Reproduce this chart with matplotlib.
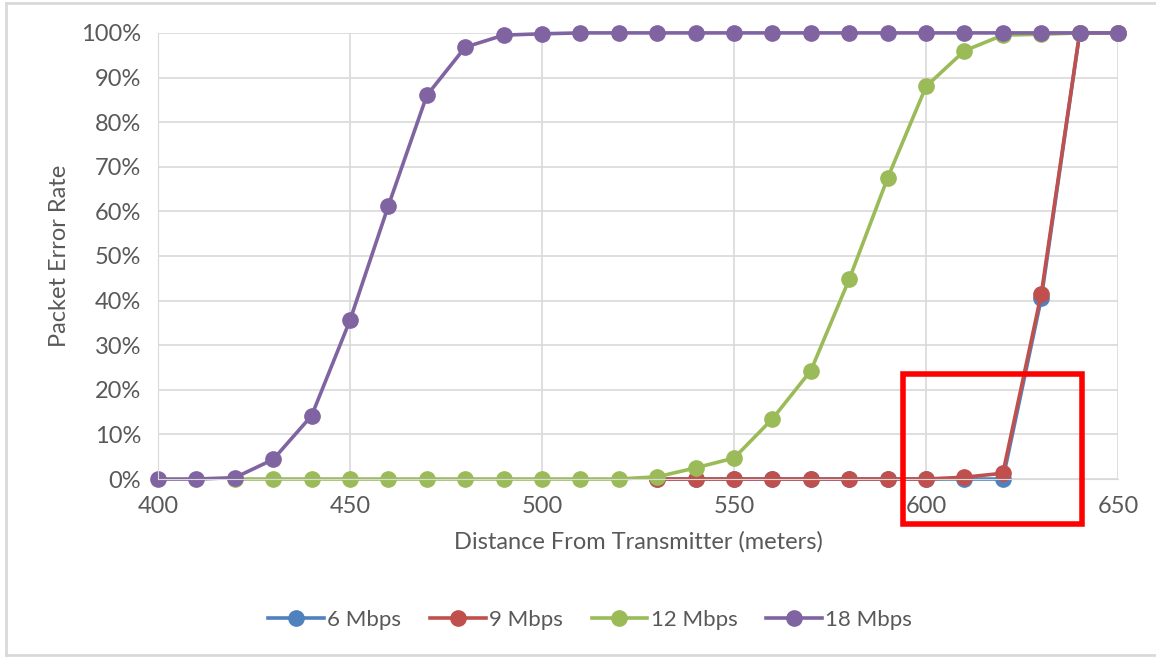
import matplotlib.pyplot as plt
import numpy as np
from matplotlib.lines import Line2D
from matplotlib.patches import Rectangle
from matplotlib.ticker import PercentFormatter

plt.rcParams['font.family'] = ['Lato', 'DejaVu Sans']

# distance in meters
dist_18 = np.arange(400, 651, 10)
dist_12 = np.arange(420, 651, 10)
dist_low = np.arange(530, 651, 10)

# packet error rate (%)
per_6 = [0, 0, 0, 0, 0, 0, 0, 0, 0, 0, 40.5, 100, 100]
per_9 = [0, 0, 0, 0, 0, 0, 0, 0, 0.4, 1.3, 41.5, 100, 100]
per_12 = [0, 0, 0, 0, 0, 0, 0, 0, 0, 0, 0, 0.5, 2.5, 4.7, 13.5, 24.3, 44.8,
          67.5, 88.0, 96.0, 99.5, 99.7, 100, 100]
per_18 = [0, 0, 0.3, 4.4, 14.2, 35.6, 61.3, 86.0, 96.8, 99.5, 99.8, 100, 100,
          100, 100, 100, 100, 100, 100, 100, 100, 100, 100, 100, 100, 100]

text_col = '#595959'
grid_col = '#d9d9d9'

fig = plt.figure(figsize=(11.56, 6.58), dpi=100)
ax = fig.add_axes([0.1367, 0.272, 0.8305, 0.678])

style = dict(linewidth=2.6, marker='o', markersize=11, clip_on=False)
ax.plot(dist_low, per_6, color='#4F81BD', label='6 Mbps', **style)
ax.plot(dist_low, per_9, color='#C0504D', label='9 Mbps', **style)
ax.plot(dist_12, per_12, color='#9BBB59', label='12 Mbps', **style)
ax.plot(dist_18, per_18, color='#8064A2', label='18 Mbps', **style)

ax.set_xlim(400, 650)
ax.set_ylim(0, 100)
ax.set_xticks(np.arange(400, 651, 50))
ax.set_yticks(np.arange(0, 101, 10))
ax.yaxis.set_major_formatter(PercentFormatter(decimals=0))
ax.grid(True, color=grid_col, linewidth=1.2)
ax.set_axisbelow(True)
for side in ['top', 'right']:
    ax.spines[side].set_visible(False)
ax.spines['left'].set_color(grid_col)
ax.spines['bottom'].set_color(grid_col)
ax.tick_params(length=0, labelsize=17, colors=text_col)
ax.tick_params(axis='y', pad=12)
ax.tick_params(axis='x', pad=12)

ax.set_xlabel('Distance From Transmitter (meters)', fontsize=17, color=text_col, labelpad=10)
ax.set_ylabel('Packet Error Rate', fontsize=17, color=text_col, labelpad=8)

# red highlight box
ax.add_patch(Rectangle((594, -10), 46.6, 33.5, fill=False, edgecolor='#ff0000',
                       linewidth=4, clip_on=False, zorder=5))

ax.legend(loc='center', bbox_to_anchor=(0.45, -0.316), ncol=4, frameon=False,
          fontsize=16, labelcolor=text_col, handlelength=2.5, handletextpad=0.15,
          columnspacing=1.3)

# outer chart border
for xs, ys in [([0.005, 0.005], [0.005, 0.995]), ([0.005, 1.0], [0.995, 0.995]),
               ([0.005, 1.0], [0.005, 0.005])]:
    fig.add_artist(Line2D(xs, ys, color='#d9d9d9', linewidth=2, transform=fig.transFigure))

fig.savefig('out.png', dpi=100)
